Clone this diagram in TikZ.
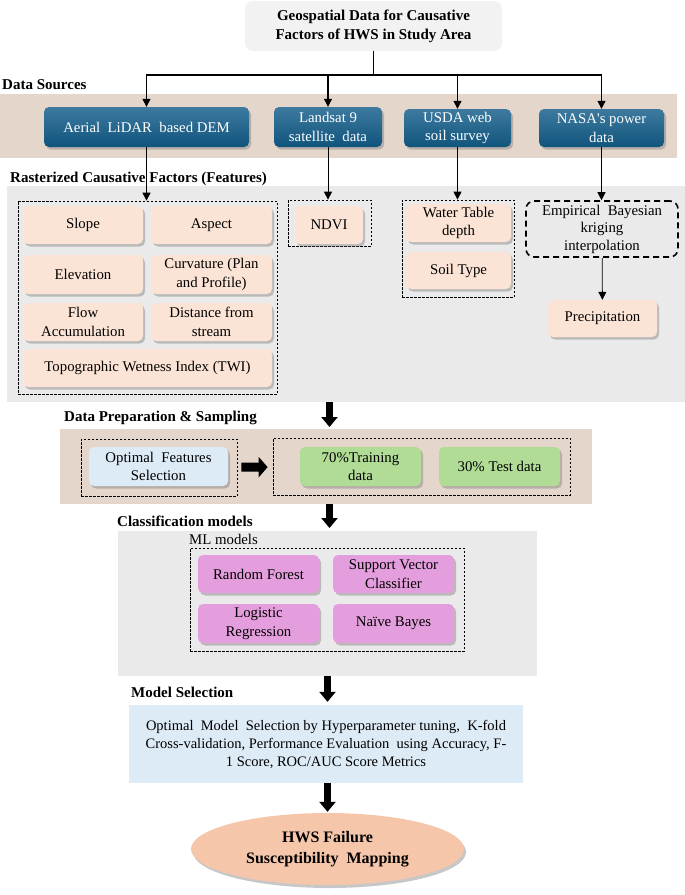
\documentclass[tikz,border=0pt]{standalone}
\usepackage{fontspec}
\setmainfont{Liberation Serif}
\usepackage{tikz}
\usetikzlibrary{arrows.meta,positioning,shadows,shapes.geometric,calc}
\definecolor{sand}{RGB}{229,214,204}
\definecolor{pale}{RGB}{234,234,234}
\definecolor{peach}{RGB}{251,228,214}
\definecolor{tealhi}{RGB}{62,122,160}
\definecolor{teallo}{RGB}{16,84,124}
\definecolor{ttl}{RGB}{242,242,242}
\definecolor{skyl}{RGB}{221,235,247}
\definecolor{leaf}{RGB}{176,220,150}
\definecolor{orchid}{RGB}{229,158,221}
\definecolor{salmon}{RGB}{245,198,170}
\newcommand{\fs}{\fontsize{14.8}{18.5}\selectfont}
\tikzset{
  plain/.style={rounded corners=5pt,align=center,font=\fs,inner sep=1pt},
  box/.style={plain,drop shadow={shadow xshift=2pt,shadow yshift=-2.5pt,fill=black!55,opacity=0.4}},
  src/.style={box,top color=tealhi,bottom color=teallo,text=white},
  tile/.style={box,fill=peach,minimum width=120pt,minimum height=38pt},
  mdl/.style={box,fill=orchid,minimum width=121pt,minimum height=38pt},
  grp/.style={draw,dash pattern=on 2.5pt off 1.5pt,line width=0.7pt,inner sep=0pt},
  band/.style={inner sep=0pt,outer sep=0pt},
  hd/.style={font=\fontsize{15}{18}\selectfont\bfseries,anchor=west,inner sep=0pt},
  arr/.style={-{Triangle[width=8pt,length=8pt]},line width=0.8pt},
  big/.style={-{Triangle[width=16pt,length=10pt]},line width=7pt}
}
\begin{document}
\begin{tikzpicture}[x=1pt,y=-1pt]
\useasboundingbox (0,0) rectangle (685,895);
\node[band,fill=sand,minimum width=677pt,minimum height=64pt] (srcband) at (338.5,126) {};
\node[band,fill=pale,minimum width=678pt,minimum height=216pt] (rband) at (346,294) {};
\node[band,fill=sand,minimum width=532pt,minimum height=75pt] (pband) at (326,466.5) {};
\node[band,fill=pale,minimum width=419pt,minimum height=145pt] (cband) at (327.5,603.5) {};
\node[plain,fill=ttl,rounded corners=8pt,font=\fontsize{15}{19}\selectfont\bfseries,minimum width=257pt,minimum height=50pt] (ttl) at (373.5,26) {Geospatial Data for Causative\\Factors of HWS in Study Area};
\node[hd] (hsrc) at (2,85) {Data Sources};
\node[hd] (hras) at (10,179) {Rasterized Causative Factors (Features)};
\node[hd] (hprep) at (64,418) {Data Preparation \& Sampling};
\node[hd] (hcls) at (117,521) {Classification models};
\node[hd] (hsel) at (131,692) {Model Selection};
\node[font=\fs,anchor=west,inner sep=0pt] (hml) at (189,539) {ML models};
\node[src,minimum width=205pt,minimum height=40pt] (aer) at (146.5,127) {Aerial\ \ LiDAR\ \ based DEM};
\node[src,minimum width=108pt,minimum height=40pt] (lsat) at (328,127) {Landsat 9\\satellite\ \ data};
\node[src,minimum width=107pt,minimum height=38pt] (usda) at (457.5,128) {USDA web\\soil survey};
\node[src,minimum width=125pt,minimum height=38pt] (nasa) at (601.5,128) {NASA\textquotesingle s power\\data};
\coordinate (hub) at (373.5,75);
\draw[line width=1.3pt] (ttl) -- (hub);
\foreach \s in {aer,lsat,usda,nasa} \draw[arr,line width=1.2pt] (hub) -| (\s);
\node[grp,minimum width=259pt,minimum height=193pt] (gdem) at (147.5,297.5) {};
\node[grp,minimum width=83pt,minimum height=46pt] (gsat) at (329.5,223) {};
\node[grp,minimum width=112pt,minimum height=97pt] (gsoil) at (458,248.5) {};
\node[draw,line width=1.6pt,dash pattern=on 6pt off 4pt,rounded corners=8pt,align=center,font=\fontsize{14.8}{17.5}\selectfont,minimum width=152pt,minimum height=56pt,inner sep=1pt] (ebk) at (602,229) {Empirical\ \ Bayesian\\kriging\\interpolation};
\node[tile] (slope) at (83,225) {Slope};
\node[tile,minimum width=121pt] (aspect) at (211.5,225) {Aspect};
\node[tile,minimum height=39pt] (elev) at (83,274.5) {Elevation};
\node[tile,minimum width=121pt,minimum height=39pt] (curv) at (211.5,274.5) {Curvature (Plan\\and Profile)};
\node[tile] (flow) at (83,322) {Flow\\Accumulation};
\node[tile,minimum width=121pt] (dist) at (211.5,322) {Distance from\\stream};
\node[tile,minimum width=249pt] (twi) at (147.5,368) {Topographic Wetness Index (TWI)};
\node[tile,minimum width=68pt] (ndvi) at (329,225) {NDVI};
\node[tile,minimum width=105pt] (wtd) at (458.5,223) {Water Table\\depth};
\node[tile,minimum width=105pt,minimum height=37pt] (soil) at (458.5,270.5) {Soil Type};
\node[tile,minimum width=109pt,minimum height=37pt] (precip) at (602.5,318.5) {Precipitation};
\foreach \s/\g in {aer/gdem,lsat/gsat,usda/gsoil,nasa/ebk} \draw[arr] (\s.south) -- (\s.south |- \g.north);
\draw[arr] (ebk) -- (precip);
\node[grp,minimum width=156pt,minimum height=57pt] (gopt) at (159,467.5) {};
\node[grp,minimum width=297pt,minimum height=57pt] (gsplit) at (421.5,466.5) {};
\node[box,fill=skyl,minimum width=139pt,minimum height=39pt] (opt) at (158.5,466.5) {Optimal\ \ Features\\Selection};
\node[box,fill=leaf,minimum width=121pt,minimum height=39pt] (train) at (360.5,466.5) {70\%Training\\data};
\node[box,fill=leaf,minimum width=121pt,minimum height=39pt] (test) at (499.5,466.5) {30\% Test data};
\draw[-{Triangle[width=20pt,length=9pt]},line width=9pt,shorten <=4pt,shorten >=5pt] (gopt) -- (gsplit);
\node[grp,minimum width=274pt,minimum height=103pt] (gml) at (327,599.5) {};
\node[mdl] (rf) at (258.5,574) {Random Forest};
\node[mdl] (svc) at (393.5,574) {Support Vector\\Classifier};
\node[mdl,minimum height=39pt] (lr) at (258.5,623.5) {Logistic\\Regression};
\node[mdl,minimum height=39pt] (nb) at (393.5,623.5) {Naïve Bayes};
\node[fill=skyl,minimum width=394pt,minimum height=78pt,align=center,inner sep=0pt,font=\fontsize{14.5}{18}\selectfont] (msel) at (326,744) {Optimal\ \ Model\ \ Selection by Hyperparameter tuning,\ \ K-fold\\Cross-validation, Performance Evaluation\ \ using Accuracy, F-\\1 Score, ROC/AUC Score Metrics};
\node[ellipse,fill=salmon,minimum width=273pt,minimum height=72pt,align=center,inner sep=0pt,font=\fontsize{16}{21}\selectfont\bfseries,drop shadow={shadow xshift=2pt,shadow yshift=-3pt,fill=black!55,opacity=0.4}] (goal) at (327.5,849) {HWS Failure\\Susceptibility\ \ Mapping};
\draw[big,shorten >=2pt] (rband.south -| gsat) -- (pband.north -| gsat);
\draw[big,shorten >=3pt] (pband.south -| gsat) -- (cband.north -| gsat);
\draw[big,shorten >=3pt] (cband.south -| goal) -- (msel.north -| goal);
\draw[big,shorten >=1pt] (msel.south -| goal) -- (goal.north -| goal);
\end{tikzpicture}
\end{document}
